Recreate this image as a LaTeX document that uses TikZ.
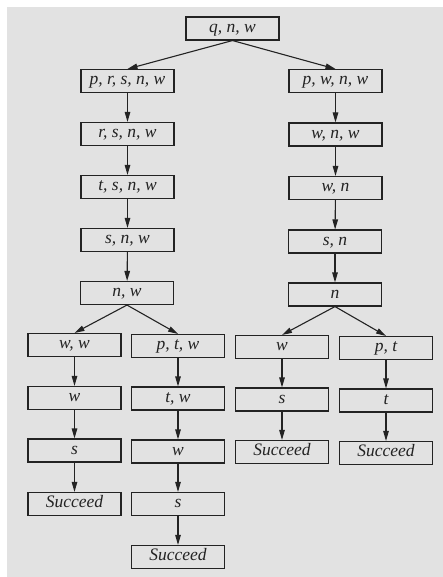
\documentclass[tikz,border=0pt]{standalone}
\usepackage{fontspec}
\setmainfont{Liberation Serif}
\usetikzlibrary{arrows.meta}
\definecolor{paper}{RGB}{226,226,226}
\definecolor{ink}{RGB}{35,35,35}
\begin{document}
\begin{tikzpicture}[
  x=1pt, y=-1pt,
  box/.style={draw=ink, line width=1.1pt, minimum width=93pt, minimum height=23pt, inner sep=0pt,
    text height=11.5pt, text depth=4pt, text=ink, font=\fontsize{17.5}{19}\selectfont\itshape},
  link/.style={draw=ink, line width=1.1pt, ->, >={Triangle[length=10pt,width=5.5pt]}}
]
\useasboundingbox (0,0) rectangle (443,577);
\fill[paper] (7,7) rectangle (443,577);
\node[box] (top) at (232.5,28.5) {q, n, w};
\node[box] (l1) at (127.5,81) {p, r, s, n, w};
\node[box] (l2) at (127.5,134) {r, s, n, w};
\node[box] (l3) at (127.5,187) {t, s, n, w};
\node[box] (l4) at (127.5,240) {s, n, w};
\node[box] (l5) at (127,293) {n, w};
\node[box] (r1) at (335.5,81) {p, w, n, w};
\node[box] (r2) at (335.5,134.5) {w, n, w};
\node[box] (r3) at (335.5,188) {w, n};
\node[box] (r4) at (335,241.5) {s, n};
\node[box] (r5) at (335,294.5) {n};
\node[box] (a1) at (74.5,345) {w, w};
\node[box] (a2) at (74.5,398) {w};
\node[box] (a3) at (74.5,450.5) {s};
\node[box] (a4) at (74.5,504) {Succeed};
\node[box] (b1) at (178,346) {p, t, w};
\node[box] (b2) at (178,398.5) {t, w};
\node[box] (b3) at (178,451.5) {w};
\node[box] (b4) at (178,504) {s};
\node[box] (b5) at (178,557) {Succeed};
\node[box] (c1) at (282,347) {w};
\node[box] (c2) at (282,399.5) {s};
\node[box] (c3) at (282,452) {Succeed};
\node[box] (d1) at (386,348) {p, t};
\node[box] (d2) at (386,400.5) {t};
\node[box] (d3) at (386,453) {Succeed};
\draw[link] (top.south) -- (l1.north);
\draw[link] (top.south) -- (r1.north);
\draw[link] (l1) -- (l2);
\draw[link] (l2) -- (l3);
\draw[link] (l3) -- (l4);
\draw[link] (l4) -- (l5);
\draw[link] (r1) -- (r2);
\draw[link] (r2) -- (r3);
\draw[link] (r3) -- (r4);
\draw[link] (r4) -- (r5);
\draw[link] (l5.south) -- (a1.north);
\draw[link] (l5.south) -- (b1.north);
\draw[link] (r5.south) -- (c1.north);
\draw[link] (r5.south) -- (d1.north);
\draw[link] (a1) -- (a2);
\draw[link] (a2) -- (a3);
\draw[link] (a3) -- (a4);
\draw[link] (b1) -- (b2);
\draw[link] (b2) -- (b3);
\draw[link] (b3) -- (b4);
\draw[link] (b4) -- (b5);
\draw[link] (c1) -- (c2);
\draw[link] (c2) -- (c3);
\draw[link] (d1) -- (d2);
\draw[link] (d2) -- (d3);
\end{tikzpicture}
\end{document}
